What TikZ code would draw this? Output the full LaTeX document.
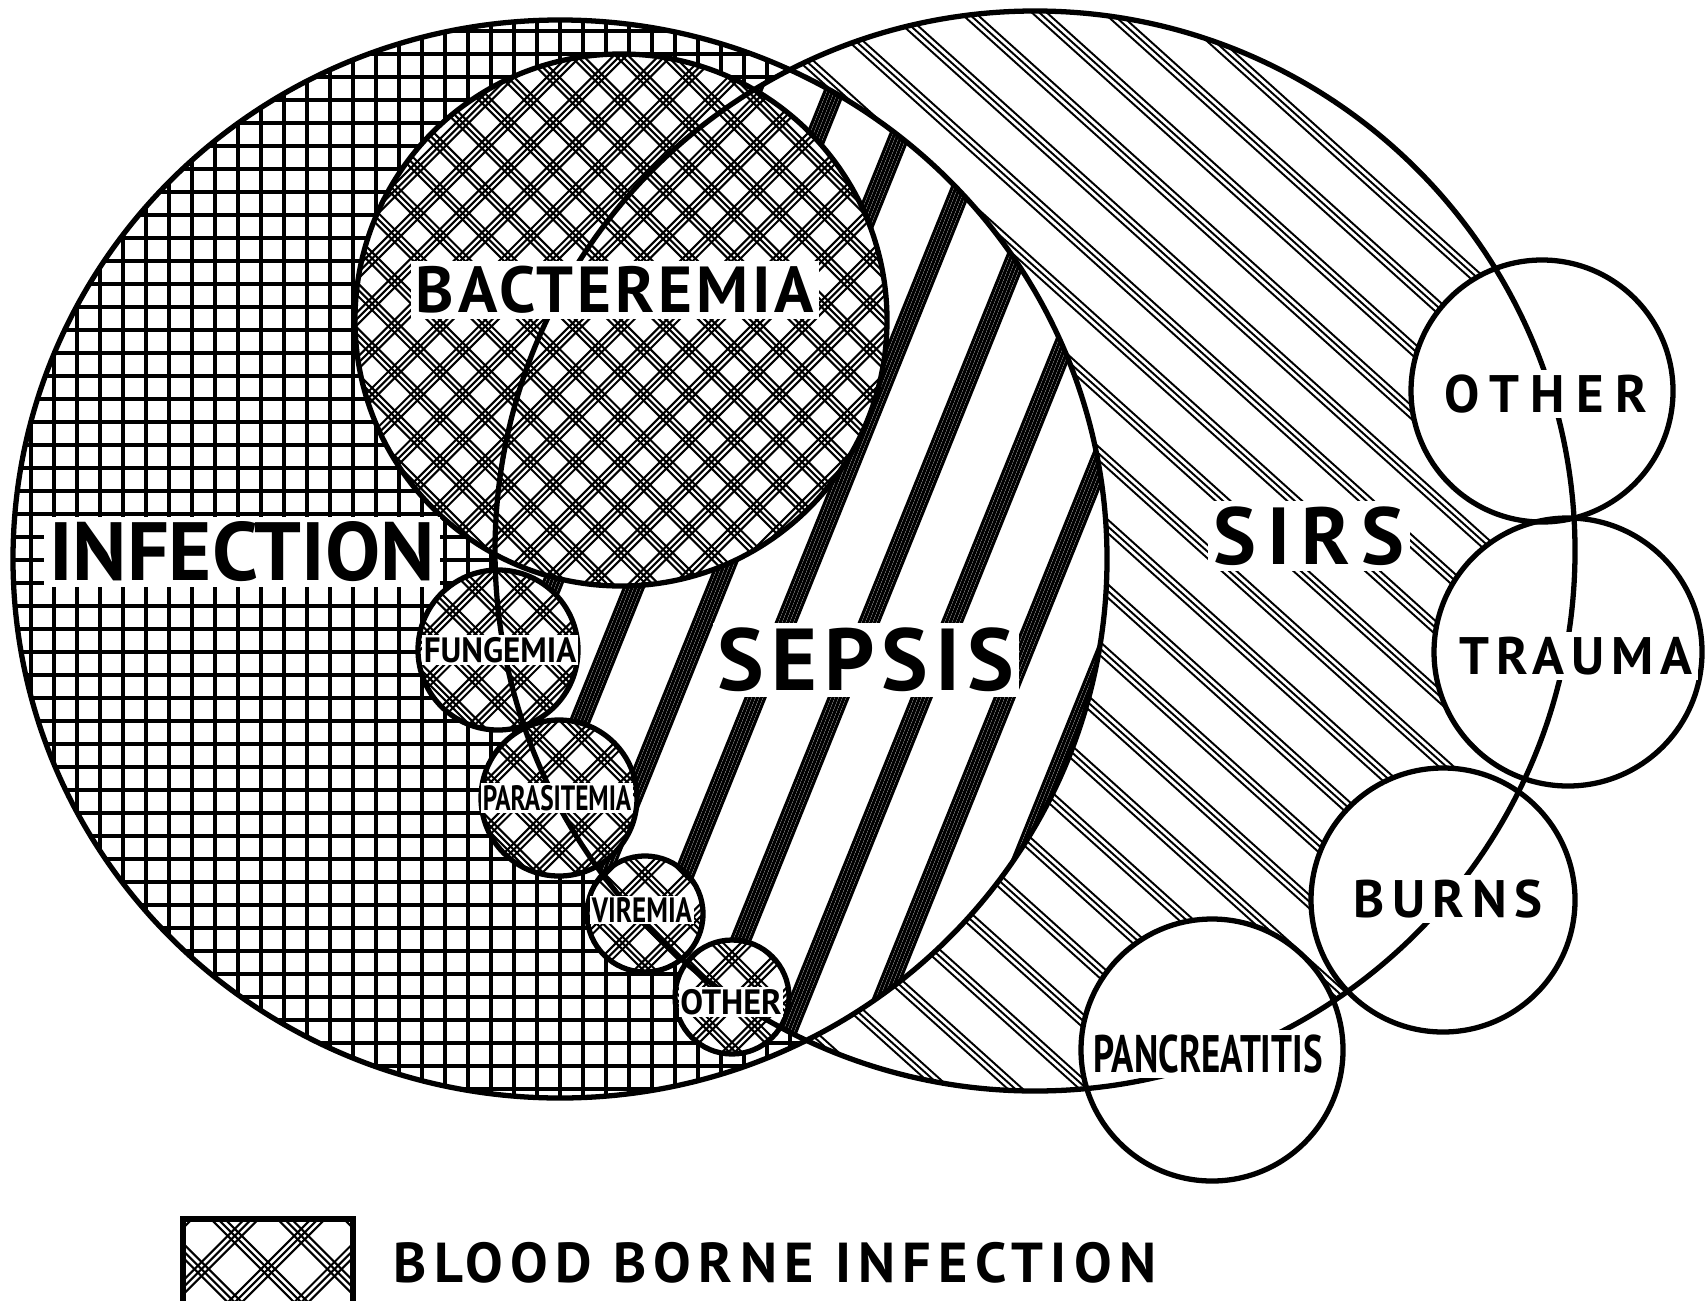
\documentclass[tikz,border=0pt]{standalone}
\usepackage{fontspec}
\setmainfont{PT Sans}
\usepackage{tikz}

\tikzset{
  outline/.style={line width=1.5pt},
  gridline/.style={line width=1.05pt},
  sirsline/.style={line width=0.55pt},
  bloodline/.style={line width=0.6pt},
  stripeline/.style={line width=0.9pt},
  lbl/.style={fill=white, inner sep=1.5pt},
}

\begin{document}
\begin{tikzpicture}[x=0.01cm, y=-0.01cm]
    \useasboundingbox (0,0) rectangle (1707,1300);
    \fill[white] (0,0) rectangle (1707,1300);

    % SIRS hatching
    \begin{scope}
      \clip (1035,551) circle (540);
      \begin{scope}[shift={(1035,551)}, rotate=-42]
        \foreach \d in {-600,-552,...,600}
          \foreach \k in {0,5,10}
            \draw[sirsline] (-600,\d+\k) -- (600,\d+\k);
      \end{scope}
    \end{scope}

    % infection grid
    \fill[white] (560,559) ellipse (547 and 539);
    \begin{scope}
      \clip (560,559) ellipse (547 and 539);
      \foreach \g in {8,31,...,1120} {
          \draw[gridline] (\g,0) -- (\g,1120);
          \draw[gridline] (0,\g) -- (1120,\g);
        }
    \end{scope}

    % sepsis stripes
    \begin{scope}
      \clip (560,559) ellipse (547 and 539);
      \clip (1035,551) circle (540);
      \fill[white] (400,0) rectangle (1200,1150);
      \begin{scope}[shift={(610,650)}, rotate=68]
        \foreach \s in {-780,-703,...,700}
          \foreach \k in {0,3.5,...,17.5}
            \draw[stripeline] (-800,\s+\k) -- (800,\s+\k);
      \end{scope}
    \end{scope}

    % blood borne circles
    \foreach \cx/\cy/\r in {621/320/266, 498/650/80, 559/798/78, 645/914/58, 732/997/57} {
        \begin{scope}
          \clip (\cx,\cy) circle (\r);
          \fill[white] (\cx,\cy) circle (\r);
          \begin{scope}[shift={(\cx,\cy)}]
            \foreach \a in {45,-45}
              \foreach \h in {-320,-288,...,320}
                \foreach \k in {0,4.5,9}
                  \draw[bloodline, rotate=\a] (-320,\h+\k) -- (320,\h+\k);
          \end{scope}
        \end{scope}
      }
    \foreach \cx/\cy/\r in {621/320/266, 498/650/80, 559/798/78, 645/914/58, 732/997/57}
      \draw[outline] (\cx,\cy) circle (\r);
    \draw[outline] (560,559) ellipse (547 and 539);

    % legend box
    \begin{scope}
      \clip (183,1219) rectangle (353,1310);
      \begin{scope}[shift={(268,1262)}]
        \foreach \a in {45,-45}
          \foreach \h in {-141,-94,...,141}
            \foreach \k in {0,5,10}
              \draw[bloodline, rotate=\a] (-200,\h+\k) -- (200,\h+\k);
      \end{scope}
    \end{scope}
    \draw[outline] (183,1219) rectangle (353,1310);

    % causes of SIRS
    \foreach \cx/\cy/\r in {1542/391/131, 1568/652/134, 1443/900/132, 1212/1050/131}
      \fill[white] (\cx,\cy) circle (\r);
    \foreach \cx/\cy/\r in {1542/391/131, 1568/652/134, 1443/900/132, 1212/1050/131}
      \draw[outline] (\cx,\cy) circle (\r);
    \draw[outline] (1035,551) circle (540);

    % labels
    \node[lbl, font={\fontsize{23.5}{23.5}\selectfont\bfseries}] (infection) at (242,552) {INFECTION};
    \node[lbl, font={\fontsize{18.5}{18.5}\selectfont\bfseries\addfontfeatures{LetterSpace=6}}] (bacteremia) at (615,290) {BACTEREMIA};
    \node[lbl, font={\fontsize{25}{25}\selectfont\bfseries\addfontfeatures{LetterSpace=8}}] (sepsis) at (866,660) {SEPSIS};
    \node[lbl, font={\fontsize{23}{23}\selectfont\bfseries\addfontfeatures{LetterSpace=14}}] (sirs) at (1309,536) {SIRS};
    \node[lbl, font={\fontsize{15}{15}\selectfont\bfseries\addfontfeatures{LetterSpace=22}}] (otherright) at (1546,394) {OTHER};
    \node[lbl, font={\fontsize{15}{15}\selectfont\bfseries\addfontfeatures{LetterSpace=13}}] (trauma) at (1576,656) {TRAUMA};
    \node[lbl, font={\fontsize{15}{15}\selectfont\bfseries\addfontfeatures{LetterSpace=14}}] (burns) at (1448,899) {BURNS};
    \node[lbl, font={\fontsize{15}{15}\selectfont\bfseries}] (pancreatitis) at (1208,1054) {\scalebox{0.7}[1]{PANCREATITIS}};
    \node[lbl, inner sep=0.5pt, font={\fontsize{10}{10}\selectfont\bfseries}] (fungemia) at (500,650) {\scalebox{0.94}[1]{FUNGEMIA}};
    \node[lbl, inner sep=0.5pt, font={\fontsize{10}{10}\selectfont\bfseries}] (parasitemia) at (557,798) {\scalebox{0.72}[1]{PARASITEMIA}};
    \node[lbl, inner sep=0.5pt, font={\fontsize{10}{10}\selectfont\bfseries}] (viremia) at (642,910) {\scalebox{0.77}[1]{VIREMIA}};
    \node[lbl, inner sep=0.5pt, font={\fontsize{10}{10}\selectfont\bfseries}] (otherblood) at (731,1002) {\scalebox{0.97}[1]{OTHER}};
    \node[font={\fontsize{16}{16}\selectfont\bfseries\addfontfeatures{LetterSpace=13}}] (legend) at (775,1263) {BLOOD BORNE INFECTION};
\end{tikzpicture}
\end{document}
